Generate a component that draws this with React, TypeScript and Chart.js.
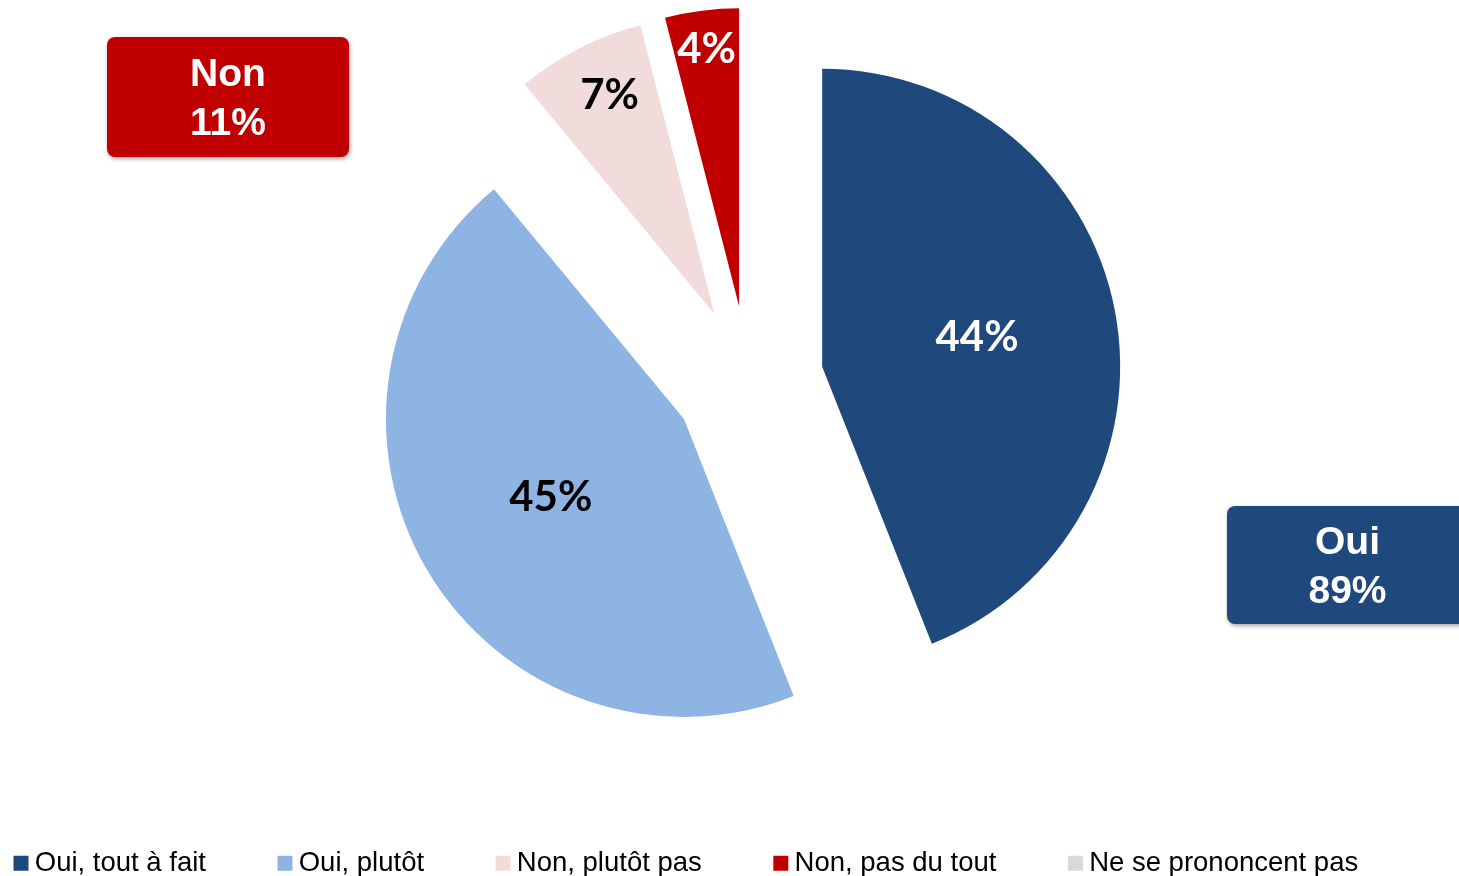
import React, { useEffect, useRef } from "react";
import { Chart, registerables } from "chart.js";

Chart.register(...registerables);

// ---- data ----
const categories = [
  "Oui, tout à fait",
  "Oui, plutôt",
  "Non, plutôt pas",
  "Non, pas du tout",
  "Ne se prononcent pas",
];
const values = [44, 45, 7, 4, 0];
const colors = ["#1F497D", "#8EB4E3", "#F2DCDB", "#C00000", "#D9D9D9"];
const labelColors = ["#FFFFFF", "#000000", "#000000", "#FFFFFF", "#000000"];

const noLabel = "Non";
const noTotal = 11;
const yesLabel = "Oui";
const yesTotal = 89;

// ---- style ----
const explode = [75, 75, 75, 75, 0]; // px each slice is pulled out along its mid-angle
const labelRadii = [0.529, 0.519, 0.814, 0.87, 0.5]; // label distance from slice apex, fraction of radius
const labelAngleFrac = [0.5, 0.5, 0.555, 0.5, 0.5]; // where in the slice's angular span the label sits
const PIE_RADIUS = 298;

const CANVAS_W = 1613;
const CANVAS_H = 896;

const explodePlugin = {
  id: "explodeSlices",
  afterDatasetUpdate(chart: any, args: any) {
    const meta = args.meta || chart.getDatasetMeta(args.index);
    meta.data.forEach((arc: any, i: number) => {
      const mid = (arc.startAngle + arc.endAngle) / 2;
      const d = explode[i] || 0;
      arc.x += Math.cos(mid) * d;
      arc.y += Math.sin(mid) * d;
    });
  },
};

const sliceLabelPlugin = {
  id: "sliceLabels",
  afterDatasetsDraw(chart: any) {
    const ctx = chart.ctx;
    const meta = chart.getDatasetMeta(0);
    ctx.save();
    ctx.font = "bold 42px Lato, 'Open Sans', sans-serif";
    ctx.textAlign = "center";
    ctx.textBaseline = "middle";
    meta.data.forEach((arc: any, i: number) => {
      const v = values[i];
      if (!v) return;
      const ang = arc.startAngle + labelAngleFrac[i] * (arc.endAngle - arc.startAngle);
      const dist = labelRadii[i] * arc.outerRadius;
      ctx.fillStyle = labelColors[i];
      ctx.fillText(`${v}%`, arc.x + Math.cos(ang) * dist, arc.y + Math.sin(ang) * dist);
    });
    ctx.restore();
  },
};

const boxText: React.CSSProperties = {
  position: "absolute",
  display: "flex",
  flexDirection: "column",
  justifyContent: "center",
  alignItems: "center",
  color: "#FFFFFF",
  fontFamily: "'Liberation Sans', Arial, sans-serif",
  fontWeight: "bold",
  fontSize: 39,
  lineHeight: "49px",
  borderRadius: 8,
  boxShadow: "1px 2px 4px rgba(0,0,0,0.35)",
};

export default function App() {
  const ref = useRef<HTMLCanvasElement>(null);

  useEffect(() => {
    if (!ref.current) return;
    const chart = new Chart(ref.current, {
      type: "pie",
      data: {
        labels: categories,
        datasets: [
          {
            data: values,
            backgroundColor: colors,
            borderWidth: 0,
            offset: 0,
            hoverOffset: 0,
            radius: PIE_RADIUS,
          } as any,
        ],
      },
      options: {
        responsive: false,
        animation: false,
        events: [],
        layout: { padding: 0 },
        plugins: {
          tooltip: { enabled: false },
          legend: {
            position: "bottom",
            align: "start",
            labels: {
              usePointStyle: true,
              pointStyle: "rect",
              boxWidth: 0.01,
              boxHeight: 15,
              padding: 79,
              color: "#000000",
              font: { family: "'Liberation Sans', Arial, sans-serif", size: 27.5 },
            },
          },
        },
      } as any,
      plugins: [explodePlugin, sliceLabelPlugin],
    });
    return () => chart.destroy();
  }, []);

  return (
    <div style={{ position: "fixed", inset: 0, overflow: "hidden", background: "#FFFFFF" }}>
      <div style={{ position: "absolute", left: -58, top: -9, width: CANVAS_W, height: CANVAS_H }}>
        <canvas ref={ref} width={CANVAS_W} height={CANVAS_H} style={{ display: "block" }} />
      </div>
      <div style={{ ...boxText, left: 107, top: 37, width: 242, height: 120, background: "#C00000" }}>
        <div>{noLabel}</div>
        <div>{noTotal}%</div>
      </div>
      <div style={{ ...boxText, left: 1227, top: 506, width: 241, height: 118, background: "#1F497D" }}>
        <div>{yesLabel}</div>
        <div>{yesTotal}%</div>
      </div>
    </div>
  );
}
